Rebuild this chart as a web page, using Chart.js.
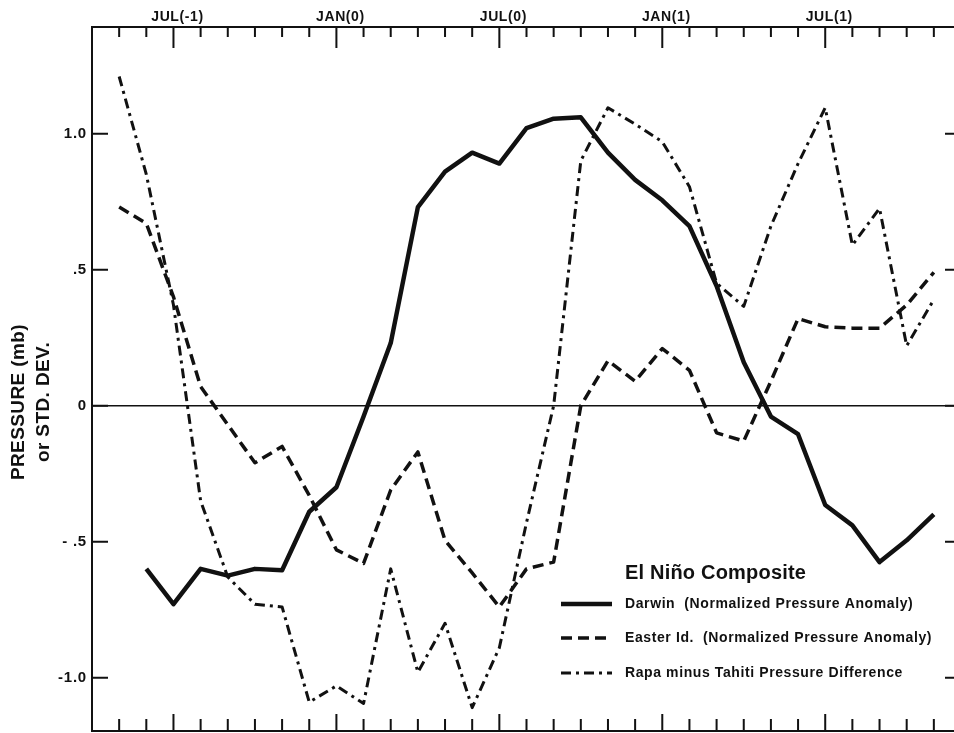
<!DOCTYPE html>
<html>
<head>
<meta charset="utf-8">
<title>El Niño Composite</title>
<script src="https://cdn.jsdelivr.net/npm/chart.js@4"></script>
<style>
  html, body { margin: 0; padding: 0; background: #fff; overflow: hidden; }
  #wrap { position: absolute; left: 0; top: 0; width: 970px; height: 733px; }
</style>
</head>
<body>
<div id="wrap"><canvas id="chart" width="970" height="733"></canvas></div>
<script>
// months from APR(-1) to DEC(1), one value per month
const months = ['APR(-1)', 'MAY(-1)', 'JUN(-1)', 'JUL(-1)', 'AUG(-1)', 'SEP(-1)', 'OCT(-1)', 'NOV(-1)', 'DEC(-1)',
    'JAN(0)', 'FEB(0)', 'MAR(0)', 'APR(0)', 'MAY(0)', 'JUN(0)', 'JUL(0)', 'AUG(0)', 'SEP(0)', 'OCT(0)', 'NOV(0)', 'DEC(0)',
    'JAN(1)', 'FEB(1)', 'MAR(1)', 'APR(1)', 'MAY(1)', 'JUN(1)', 'JUL(1)', 'AUG(1)', 'SEP(1)', 'OCT(1)', 'NOV(1)', 'DEC(1)'];

const topLabels = ['JUL(-1)', 'JAN(0)', 'JUL(0)', 'JAN(1)', 'JUL(1)'];

const darwin = [null, null, -0.60, -0.73, -0.60, -0.625, -0.60, -0.605, -0.39, -0.30, -0.04, 0.23, 0.73, 0.86, 0.93, 0.89,
    1.02, 1.055, 1.06, 0.93, 0.83, 0.755, 0.66, 0.44, 0.16, -0.04, -0.105, -0.365, -0.44, -0.575, -0.495, -0.40, null];

const easter = [null, 0.73, 0.67, 0.40, 0.07, -0.07, -0.21, -0.15, -0.33, -0.53, -0.58, -0.31, -0.17, -0.495, -0.615, -0.74,
    -0.60, -0.575, 0.00, 0.165, 0.09, 0.21, 0.13, -0.10, -0.13, 0.09, 0.32, 0.29, 0.285, 0.285, 0.37, 0.49, null];

const rapa = [null, 1.21, 0.85, 0.37, -0.35, -0.63, -0.73, -0.74, -1.09, -1.03, -1.095, -0.60, -0.98, -0.80, -1.11, -0.89,
    -0.43, 0.00, 0.90, 1.095, 1.035, 0.97, 0.805, 0.45, 0.365, 0.66, 0.89, 1.095, 0.59, 0.725, 0.22, 0.39, null];

const yTicks = [1.0, 0.5, 0, -0.5, -1.0];
const yTickLabels = ['1.0', '.5', '0', '- .5', '-1.0'];

const seriesNames = ['Darwin  (Normalized Pressure Anomaly)', 'Easter Id.  (Normalized Pressure Anomaly)', 'Rapa minus Tahiti Pressure Difference'];

const FONT = '"Liberation Sans", Arial, Helvetica, sans-serif';
const INK = '#111';

// frame, inward ticks, labels and legend
const framePlugin = {
    id: 'frame',
    afterDraw(chart) {
        const ctx = chart.ctx;
        const a = chart.chartArea;
        const x = chart.scales.x;
        const y = chart.scales.y;
        ctx.save();
        ctx.strokeStyle = INK;
        ctx.fillStyle = INK;

        // zero line
        ctx.lineWidth = 1.5;
        ctx.beginPath();
        ctx.moveTo(a.left, y.getPixelForValue(0));
        ctx.lineTo(a.right, y.getPixelForValue(0));
        ctx.stroke();

        // frame
        ctx.lineWidth = 2;
        ctx.strokeRect(a.left, a.top, a.right - a.left, a.bottom - a.top);

        // month ticks top and bottom
        months.forEach((m, i) => {
            if (i === 0 || i === months.length - 1) return;
            const px = x.getPixelForValue(i);
            const major = topLabels.includes(m);
            ctx.beginPath();
            ctx.moveTo(px, a.top);
            ctx.lineTo(px, a.top + (major ? 21 : 10));
            ctx.moveTo(px, a.bottom);
            ctx.lineTo(px, a.bottom - (major ? 17 : 12));
            ctx.stroke();
            if (major) {
                ctx.font = 'bold 14px ' + FONT;
                ctx.letterSpacing = '0.6px';
                ctx.textAlign = 'center';
                ctx.textBaseline = 'middle';
                ctx.fillText(m, px + 4, 17);
                ctx.letterSpacing = '0px';
            }
        });

        // y ticks both sides
        yTicks.forEach((v, i) => {
            const py = y.getPixelForValue(v);
            ctx.beginPath();
            ctx.moveTo(a.left, py);
            ctx.lineTo(a.left + 16, py);
            ctx.moveTo(a.right, py);
            ctx.lineTo(a.right - 16, py);
            ctx.stroke();
            ctx.font = 'bold 15px ' + FONT;
            ctx.letterSpacing = '0.8px';
            ctx.textAlign = 'right';
            ctx.textBaseline = 'middle';
            ctx.fillText(yTickLabels[i], 87, py);
            ctx.letterSpacing = '0px';
        });

        // y axis title
        ctx.save();
        ctx.translate(19, 402);
        ctx.rotate(-Math.PI / 2);
        ctx.font = 'bold 19px ' + FONT;
        ctx.letterSpacing = '0.4px';
        ctx.textAlign = 'center';
        ctx.textBaseline = 'middle';
        ctx.fillText('PRESSURE (mb)', 0, 0);
        ctx.fillText('or STD. DEV.', 0, 25);
        ctx.restore();

        // legend
        ctx.textAlign = 'left';
        ctx.textBaseline = 'middle';
        ctx.font = 'bold 20px ' + FONT;
        ctx.letterSpacing = '0.2px';
        ctx.fillText('El Niño Composite', 625, 573);
        ctx.font = 'bold 14px ' + FONT;
        ctx.letterSpacing = '0.6px';
        const rows = [604, 638, 673];
        chart.data.datasets.forEach((ds, i) => {
            ctx.lineWidth = ds.borderWidth;
            ctx.setLineDash(ds.borderDash || []);
            ctx.beginPath();
            ctx.moveTo(561, rows[i]);
            ctx.lineTo(612, rows[i]);
            ctx.stroke();
            ctx.setLineDash([]);
            ctx.fillText(seriesNames[i], 625, rows[i]);
        });
        ctx.restore();
    }
};

new Chart(document.getElementById('chart'), {
    type: 'line',
    data: {
        labels: months,
        datasets: [
            { label: seriesNames[0], data: darwin, borderColor: INK, borderWidth: 4.5, borderDash: [] },
            { label: seriesNames[1], data: easter, borderColor: INK, borderWidth: 3.5, borderDash: [11, 6] },
            { label: seriesNames[2], data: rapa, borderColor: INK, borderWidth: 3, borderDash: [10, 5, 3, 5] }
        ]
    },
    options: {
        responsive: false,
        animation: false,
        layout: { padding: { left: 92, top: 27, right: 9, bottom: 2 } },
        elements: {
            point: { radius: 0 },
            line: { tension: 0, borderJoinStyle: 'round', borderCapStyle: 'butt', fill: false }
        },
        scales: {
            x: { type: 'category', display: false, offset: false },
            y: { display: false, min: -1.196, max: 1.392 }
        },
        plugins: { legend: { display: false }, tooltip: { enabled: false } }
    },
    plugins: [framePlugin]
});
</script>
</body>
</html>
